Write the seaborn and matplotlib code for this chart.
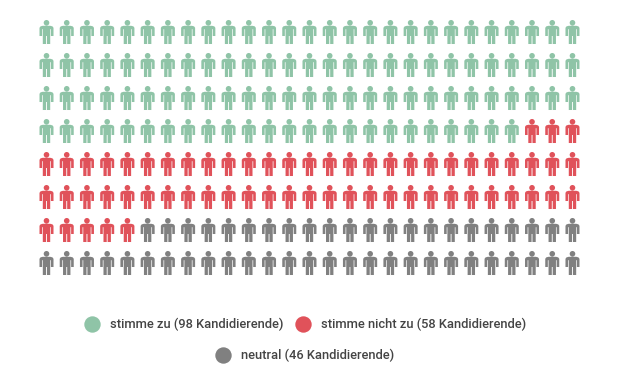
import numpy as np
import pandas as pd
import seaborn as sns
import matplotlib.pyplot as plt
from matplotlib.lines import Line2D
from matplotlib.path import Path

# legend labels and the number of icons drawn per group
groups = ["stimme zu", "stimme nicht zu", "neutral"]
candidates = [98, 58, 46]
icons = [105, 62, 49]
colors = ["#8fc4a7", "#e0525a", "#808080"]

N_COLS = 27

sns.set_theme(style="white")
plt.rcParams["font.family"] = ["Roboto", "DejaVu Sans"]
plt.rcParams["font.weight"] = "medium"

# ---------- person icon ----------
body = [(-3.8, -6.2), (3.8, -6.2), (6, -5.6), (7, -4.2), (7, 4), (4.4, 4), (4.4, -2.8),
        (3.7, -2.8), (3.7, 12), (0.45, 12), (0.45, 4), (-0.45, 4), (-0.45, 12),
        (-3.7, 12), (-3.7, -2.8), (-4.4, -2.8), (-4.4, 4), (-7, 4), (-7, -4.2),
        (-6, -5.6), (-3.8, -6.2)]
body_path = Path(body, closed=True)
head = Path.circle((0, -9.2), 2.8)
person = Path.make_compound_path(body_path, head)
person = Path(person.vertices * [1, -1], person.codes)

# ---------- data ----------
labels = [g for g, n in zip(groups, icons) for _ in range(n)]
df = pd.DataFrame({"group": labels})
df["col"] = df.index % N_COLS
df["row"] = df.index // N_COLS

fig, ax = plt.subplots(figsize=(6.2, 3.82), dpi=100)
fig.subplots_adjust(0, 0, 1, 1)

sns.scatterplot(data=df, x="col", y="row", hue="group", hue_order=groups,
                palette=colors, marker=person, s=299, linewidth=0,
                legend=False, ax=ax)

# 20.23 px per column, 33 px per row
ax.set_xlim(-46.5 / 20.23, (620 - 46.5) / 20.23)
ax.set_ylim((382 - 32) / 33, -32 / 33)
ax.axis("off")


def dot_legend(idx, anchor_y):
    handles = [Line2D([], [], marker="o", ls="none", ms=11.8, mew=0, color=colors[i]) for i in idx]
    texts = [f"{groups[i]} ({candidates[i]} Kandidierende)" for i in idx]
    return fig.legend(handles, texts, ncol=len(idx), loc="center",
                      bbox_to_anchor=(0.4907, anchor_y), frameon=False, fontsize=9.3,
                      labelcolor="#444444", handletextpad=0.65, columnspacing=0.72,
                      borderpad=0, handlelength=1.5)


dot_legend([0, 1], 1 - 324.5 / 382)
dot_legend([2], 1 - 355.5 / 382)

fig.savefig("out.png", dpi=100)
